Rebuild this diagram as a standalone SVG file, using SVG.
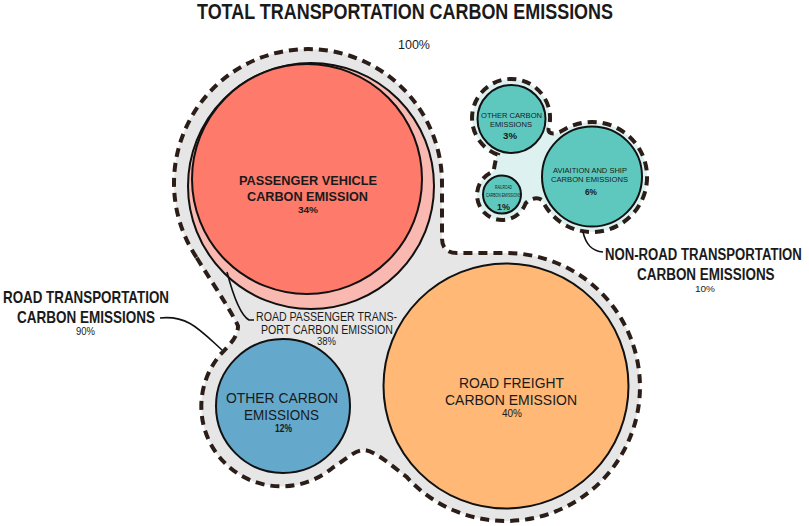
<svg xmlns="http://www.w3.org/2000/svg" width="809" height="526" viewBox="0 0 809 526">
<style>
.bg{fill:#ffffff}
.dash{stroke:#2b1d18;stroke-width:4;stroke-dasharray:9 6;fill-rule:nonzero}
.c{stroke:#111;stroke-width:2}
.t{font-family:"Liberation Sans Narrow","Liberation Sans",Arial,sans-serif;fill:#1a1a1a}
.b{font-weight:bold}
.lead{fill:none;stroke:#111;stroke-width:1.6}
</style>
<rect class="bg" x="0" y="0" width="809" height="526"/>

<g id="title">
<text class="t b" x="197" y="19" font-size="22" textLength="416" lengthAdjust="spacingAndGlyphs">TOTAL  TRANSPORTATION  CARBON  EMISSIONS</text>
<text class="t" x="398" y="49" font-size="13" textLength="32" lengthAdjust="spacingAndGlyphs" fill="#222">100%</text>
</g>

<g id="road-group">
<path class="dash" fill="#e6e6e6" d="M196.5 257.4 A134 134 0 1 1 442 183 L442 238 Q442 253 457 253 L506 253 A134 134 0 1 1 406.4 476.7 C392 466 374 450 364 450 C354 450 343 462 332.7 467.7 A80 80 0 0 1 220 355 C228 346 238 338 238 326 C232 312 206 273 196.5 257.4 Z"/>
<text class="t b" x="3" y="303" font-size="17" textLength="166" lengthAdjust="spacingAndGlyphs">ROAD  TRANSPORTATION</text>
<text class="t b" x="17" y="323" font-size="17" textLength="138" lengthAdjust="spacingAndGlyphs">CARBON  EMISSIONS</text>
<text class="t" x="76" y="335" font-size="10" textLength="19" lengthAdjust="spacingAndGlyphs" fill="#555">90%</text>
</g>

<g id="nonroad-group">
<path class="dash" fill="#ddf1f0" d="M497.7 154.6 A39 39 0 1 1 548.7 128.1 C547 135 556 135 564.5 129.4 A55 55 0 1 1 542.2 200.2 C538 197 530 198 525.5 203.6 A25 25 0 1 1 493.4 171.5 C495 165 495 160 497.7 154.6 Z"/>
<text class="t b" transform="translate(605 260) scale(0.76 1)" x="0" y="0" font-size="17" textLength="259" lengthAdjust="spacingAndGlyphs">NON-ROAD  TRANSPORTATION</text>
<text class="t b" transform="translate(637 280) scale(0.8 1)" x="0" y="0" font-size="17" textLength="172" lengthAdjust="spacingAndGlyphs">CARBON  EMISSIONS</text>
<text class="t" x="695" y="292" font-size="9" textLength="20" lengthAdjust="spacingAndGlyphs" fill="#555">10%</text>
</g>

<g id="road-passenger">
<circle class="c" cx="311" cy="186" r="123" fill="#f9b9b1" stroke-width="1.6"/>
<text class="t" x="256" y="321" font-size="12.5" textLength="141" lengthAdjust="spacingAndGlyphs" fill="#333">ROAD PASSENGER TRANS-</text>
<text class="t" x="261" y="333.5" font-size="12.5" textLength="132" lengthAdjust="spacingAndGlyphs" fill="#333">PORT CARBON EMISSION</text>
<text class="t" x="317" y="345" font-size="10" textLength="19" lengthAdjust="spacingAndGlyphs" fill="#555">38%</text>
</g>

<g id="passenger-vehicle">
<circle class="c" cx="307" cy="179" r="115" fill="#fe7a6b"/>
<text class="t b" x="239" y="185" font-size="13.5" textLength="138" lengthAdjust="spacingAndGlyphs">PASSENGER VEHICLE</text>
<text class="t b" x="247" y="201" font-size="13.5" textLength="121" lengthAdjust="spacingAndGlyphs">CARBON EMISSION</text>
<text class="t b" x="298" y="213" font-size="9.5" textLength="20" lengthAdjust="spacingAndGlyphs" fill="#3a1a14">34%</text>
</g>

<g id="other-road">
<circle class="c" cx="283" cy="406" r="67" fill="#64a8cc"/>
<text class="t" x="226" y="403" font-size="14.5" textLength="112" lengthAdjust="spacingAndGlyphs">OTHER CARBON</text>
<text class="t" x="244" y="420" font-size="14.5" textLength="75" lengthAdjust="spacingAndGlyphs">EMISSIONS</text>
<text class="t b" x="275" y="432" font-size="10" textLength="17" lengthAdjust="spacingAndGlyphs" fill="#333">12%</text>
</g>

<g id="road-freight">
<circle class="c" cx="506" cy="386" r="122.5" fill="#ffb876"/>
<text class="t" x="459" y="388" font-size="14.5" textLength="105" lengthAdjust="spacingAndGlyphs">ROAD FREIGHT</text>
<text class="t" x="445" y="405" font-size="14.5" textLength="132" lengthAdjust="spacingAndGlyphs">CARBON EMISSION</text>
<text class="t" x="502" y="417" font-size="10" textLength="20" lengthAdjust="spacingAndGlyphs" fill="#333">40%</text>
</g>

<g id="other-nonroad">
<circle class="c" cx="511.5" cy="119" r="34" fill="#5ec8bf"/>
<text class="t" x="481" y="118" font-size="7.5" textLength="61" lengthAdjust="spacingAndGlyphs" fill="#1f3f3d">OTHER CARBON</text>
<text class="t" x="490" y="127" font-size="7.5" textLength="42" lengthAdjust="spacingAndGlyphs" fill="#1f3f3d">EMISSIONS</text>
<text class="t b" x="503" y="139" font-size="9.5" textLength="14" lengthAdjust="spacingAndGlyphs" fill="#1f3f3d">3%</text>
</g>

<g id="aviation-ship">
<circle class="c" cx="592" cy="176.5" r="50" fill="#5ec8bf"/>
<text class="t" x="553" y="173" font-size="7.5" textLength="74" lengthAdjust="spacingAndGlyphs" fill="#1f3f3d">AVIAITION AND SHIP</text>
<text class="t" x="551" y="182" font-size="7.5" textLength="77" lengthAdjust="spacingAndGlyphs" fill="#1f3f3d">CARBON EMISSIONS</text>
<text class="t b" x="585" y="195" font-size="9.5" textLength="12" lengthAdjust="spacingAndGlyphs" fill="#1f3f3d">6%</text>
</g>

<g id="railroad">
<circle class="c" cx="502" cy="194.5" r="19" fill="#5ec8bf"/>
<text class="t" x="495" y="189" font-size="5" textLength="17" lengthAdjust="spacingAndGlyphs" fill="#1f3f3d">RAILROAD</text>
<text class="t" x="486" y="197" font-size="5" textLength="35" lengthAdjust="spacingAndGlyphs" fill="#1f3f3d">CARBON EMISSIONS</text>
<text class="t b" x="497" y="210" font-size="9" textLength="13" lengthAdjust="spacingAndGlyphs" fill="#1f3f3d">1%</text>
</g>

<g id="connectors">
<path class="lead" d="M160 318 C188 315 200 330 222 350"/>
<path class="lead" d="M583 232 C586 245 592 251 603 252"/>
<path class="lead" d="M254 320 L249 320 C240 315 233 295 227 272" stroke="#555" stroke-width="1"/>
</g>
</svg>
